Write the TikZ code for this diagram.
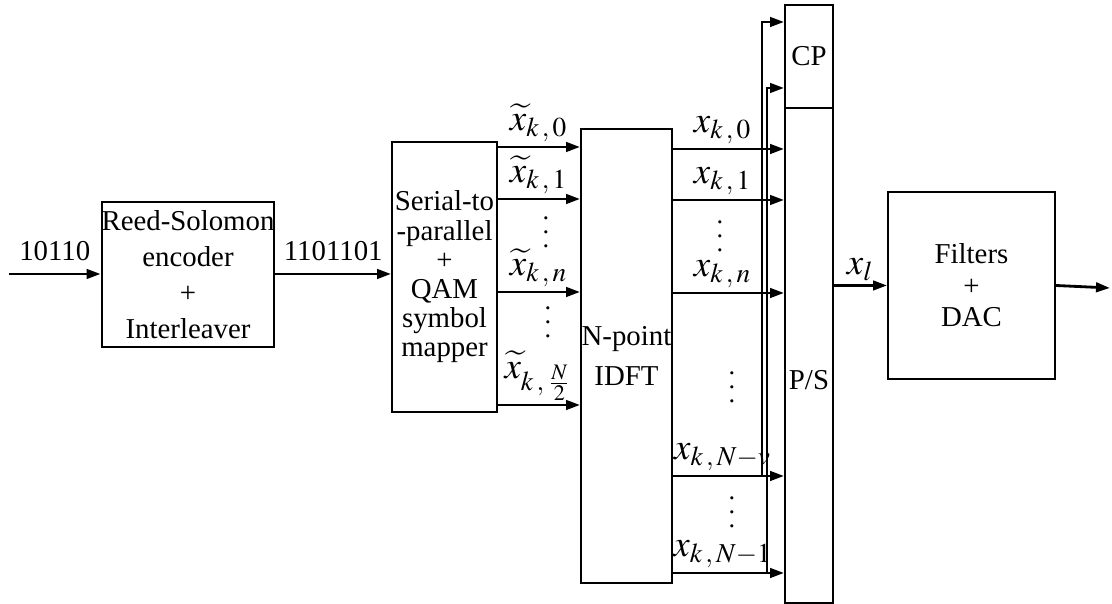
\documentclass[tikz,border=0pt]{standalone}
\usepackage{mathptmx}
\usepackage{fontspec}
\setmainfont{Liberation Serif}
\usetikzlibrary{arrows.meta,positioning}

\begin{document}
\begin{tikzpicture}[x=0.1mm,y=-0.1mm,
	bloc/.style={draw,line width=0.55pt,inner sep=0pt,align=center},
	fl/.style={line width=0.8pt,-{Triangle[length=1.4mm,width=0.95mm]}},
	sym/.style={font=\fontsize{10.5}{11}\selectfont,inner sep=0pt},
	pts/.style={font=\fontsize{7.5}{8}\selectfont,inner sep=0pt}]
		\useasboundingbox (0,0) rectangle (1112,604);
		
		% Polices des blocs
		\def\fa{\fontsize{8.2}{10.2}\selectfont}
		\def\fb{\fontsize{8.2}{8.3}\selectfont}
		
		% Blocs de la chaine
		\node[bloc,minimum width=17.2mm,minimum height=14.5mm,font=\fa] (rs) at (188,274.5)
		{Reed-Solomon\\encoder\\+\\Interleaver};
		\node[bloc,minimum width=10.5mm,minimum height=27mm,font=\fb] (sp) at (444.5,277)
		{Serial-to\\-parallel\\+\\QAM\\symbol\\mapper};
		\node[bloc,minimum width=9.1mm,minimum height=45.4mm,font=\fontsize{8.2}{11.4}\selectfont] (idft) at (626.5,356)
		{N-point\\IDFT};
		\node[bloc,minimum width=4.8mm,minimum height=10.3mm,font=\fa] (cp) at (809,56.5) {CP};
		\node[bloc,minimum width=4.8mm,minimum height=49.5mm] (ps) at (809,355.5) {};
		\node[font=\fa] (pslbl) at (809,380) {P/S};
		\node[bloc,minimum width=16.7mm,minimum height=18.7mm,font=\fontsize{8.2}{9}\selectfont] (dac) at (971.5,285.5)
		{Filters\\+\\DAC};
		
		% Entree et sortie
		\coordinate (in) at (9,274);
		\coordinate (out) at (1110,288);
		\draw[fl] (in) -- (rs.west |- in) node[midway,above,font=\fa] {10110};
		\draw[fl] (rs.east |- in) -- (sp.west |- in) node[midway,above,font=\fa] {1101101};
		
		% Symboles QAM vers IDFT
		\foreach \yy/\lab in {147/{$\widetilde{x}_{k\,,\,0}$}, 199/{$\widetilde{x}_{k\,,\,1}$},
			292/{$\widetilde{x}_{k\,,\,n}$}, 405/{$\widetilde{x}_{k\,,\,\frac{N}{2}}$}}{
			\draw[fl] (sp.east |- 0,\yy) -- (idft.west |- 0,\yy) node[midway,above=1pt,sym] {\lab};
		}
		\node[pts] (dg1) at (546,222) {$\vdots$};
		\node[pts] (dg2) at (548,312) {$\vdots$};
		
		% Echantillons vers P/S
		\foreach \yy/\lab in {149/{$x_{k\,,\,0}$}, 200/{$x_{k\,,\,1}$}, 293/{$x_{k\,,\,n}$},
			476/{$x_{k\,,\,N-v}$}, 573/{$x_{k\,,\,N-1}$}}{
			\draw[fl] (idft.east |- 0,\yy) -- (ps.west |- 0,\yy) node[pos=0.45,above=1pt,sym] {\lab};
		}
		\node[pts] (dd1) at (720,226) {$\vdots$};
		\node[pts] (dd2) at (732,377) {$\vdots$};
		\node[pts] (dd3) at (732,502) {$\vdots$};
		
		% Prefixe cyclique
		\coordinate (tv) at (762,476);
		\coordinate (t1) at (767,573);
		\draw[fl] (tv) |- (cp.west |- 0,22);
		\draw[fl] (t1) |- (cp.west |- 0,88);
		
		% Vers le filtre
		\draw[fl] (ps.east |- dac.west) -- (dac.west) node[midway,above=1pt,sym] {$x_l$};
		\draw[fl] (dac.east) -- (out);
	\end{tikzpicture}
\end{document}
